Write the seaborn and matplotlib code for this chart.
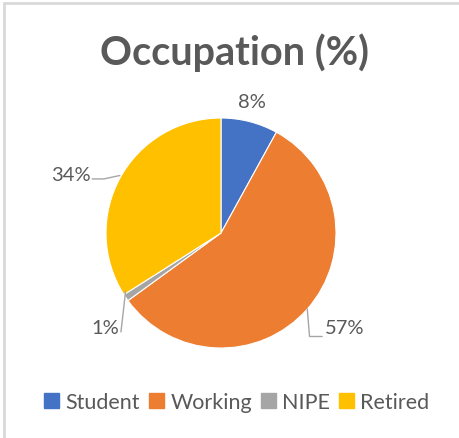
import numpy as np
import matplotlib
matplotlib.use("Agg")
import matplotlib.pyplot as plt
import seaborn as sns

categories = ["Student", "Working", "NIPE", "Retired"]
shares = [8, 57, 1, 34]
pct_labels = ["8%", "57%", "1%", "34%"]
colors = ["#4472C4", "#ED7D31", "#A5A5A5", "#FFC000"]

sns.set_theme(style="white")
plt.rcParams['font.family'] = ['Lato', 'DejaVu Sans']
txt = "#595959"

fig = plt.figure(figsize=(4.59, 4.39), dpi=100)
# one data unit = 115 px, pie centre at (221, 234) px
L = 1.6
ax = fig.add_axes([(221 - L * 115) / 459, (205 - L * 115) / 439,
                   2 * L * 115 / 459, 2 * L * 115 / 439])

wedges, _ = ax.pie(shares, colors=colors, startangle=90, counterclock=False,
                   radius=1, wedgeprops=dict(edgecolor="white", linewidth=0.8))
ax.set_xlim(-L, L)
ax.set_ylim(-L, L)
ax.set_aspect("equal")
ax.axis("off")

# label placement (text position, alignment, leader line points)
layout = {
    "8%": dict(pos=(0.27, 1.14), ha="center", line=None),
    "57%": dict(pos=(0.90, -0.82), ha="left", line=[(0.75, -0.66), (0.77, -0.90), (0.88, -0.90)]),
    "1%": dict(pos=(-0.89, -0.82), ha="right", line=[(-0.83, -0.51), (-0.87, -0.86)]),
    "34%": dict(pos=(-1.13, 0.51), ha="right", line=[(-0.88, 0.50), (-1.02, 0.47), (-1.12, 0.47)]),
}
for lab in pct_labels:
    d = layout[lab]
    ax.text(d["pos"][0], d["pos"][1], lab, ha=d["ha"], va="center",
            fontsize=14.5, color=txt)
    if d["line"]:
        xs, ys = zip(*d["line"])
        ax.plot(xs, ys, color="#A6A6A6", lw=1)

fig.text(0.51, 1 - 65 / 439, "Occupation (%)", ha="center", va="baseline",
         fontsize=28.5, fontweight="bold", color=txt)

handles = [plt.Rectangle((0, 0), 1, 1, color=c) for c in colors]
fig.legend(handles, categories, loc="center", bbox_to_anchor=(0.516, 0.082),
           ncol=4, frameon=False, fontsize=15.5, labelcolor=txt,
           handlelength=0.7, handleheight=0.7, handletextpad=0.3,
           columnspacing=0.4)

# chart area border (top and left visible)
fig.add_artist(plt.Line2D([3.5 / 459, 1], [1 - 4 / 439, 1 - 4 / 439],
                          color="#D9D9D9", lw=2, transform=fig.transFigure))
fig.add_artist(plt.Line2D([3.5 / 459, 3.5 / 459], [0, 1 - 4 / 439],
                          color="#D9D9D9", lw=2, transform=fig.transFigure))

fig.savefig("out.png", dpi=100)
